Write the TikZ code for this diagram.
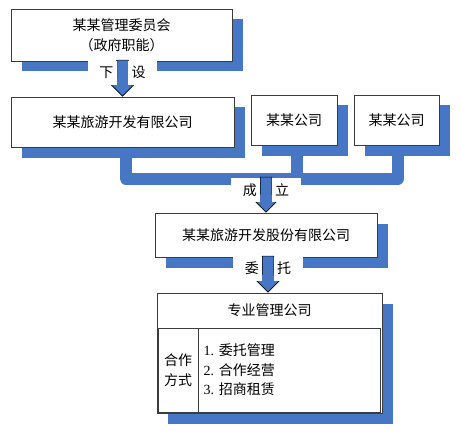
\documentclass[tikz,border=0pt]{standalone}
\usepackage{fontspec}
\setmainfont{Liberation Serif}
\newfontfamily\cjk{Noto Sans CJK SC}
\usetikzlibrary{shapes.arrows,shadows,backgrounds}

\definecolor{shadowblue}{RGB}{70,118,196}
\definecolor{boxline}{RGB}{60,60,60}

\tikzset{
  box/.style={draw=boxline, line width=0.9pt, fill=white, inner sep=0pt, align=center,
    font=\cjk\fontsize{14}{20}\selectfont,
    drop shadow={shadow xshift=10.5pt, shadow yshift=-10.5pt, fill=shadowblue, opacity=1}},
  inbox/.style={draw=boxline, line width=0.9pt, inner sep=0pt, align=center,
    font=\cjk\fontsize{14}{20}\selectfont},
  bigarrow/.style={single arrow, rotate=-90, anchor=tip, fill=shadowblue, draw=black, line width=0.6pt,
    inner xsep=0pt, inner ysep=5.5pt, minimum height=36pt,
    single arrow head extend=12pt, single arrow head indent=0pt},
  tag/.style={fill=white, inner xsep=3.5pt, inner ysep=0pt, minimum height=24pt, text width=22pt,
    font=\cjk\fontsize{14}{16}\selectfont},
  bar/.style={shadowblue, line width=12pt, line join=round}
}

\begin{document}
\begin{tikzpicture}[x=1pt, y=-1pt]
  \useasboundingbox (0,0) rectangle (460,433);

  % Boites
  \node[box, minimum width=221pt, minimum height=52pt] (gov) at (121.5,35) {某某管理委员会\\（政府职能）};
  \node[box, minimum width=223pt, minimum height=50pt] (tour) at (122.5,122) {某某旅游开发有限公司};
  \node[box, minimum width=86pt, minimum height=50pt] (coA) at (294,120) {某某公司};
  \node[box, minimum width=85pt, minimum height=50pt] (coB) at (396.5,120) {某某公司};
  \node[box, minimum width=222pt, minimum height=44pt] (share) at (266,235) {某某旅游开发股份有限公司};
  \node[box, minimum width=225pt, minimum height=120pt] (mgmt) at (269.5,353) {};

  % Societe de gestion
  \node[anchor=north, minimum height=35pt, inner sep=0pt, font=\cjk\fontsize{14}{20}\selectfont] (mgmtname) at (mgmt.north) {专业管理公司};
  \node[inbox, anchor=south west, minimum width=40pt, minimum height=84pt] (mode) at ([xshift=1pt, yshift=1pt]mgmt.south west) {合作\\方式};
  \node[inbox, anchor=south west, minimum width=182pt, minimum height=84pt] (body) at (mode.south east) {};
  \node[anchor=west, align=left, inner sep=0pt, font=\cjk\fontsize{14}{19.5}\selectfont] (ways) at ([xshift=5pt]body.west)
    {{\rmfamily 1. }委托管理\\{\rmfamily 2. }合作经营\\{\rmfamily 3. }招商租赁};

  % Barre de regroupement
  \begin{scope}[on background layer]
    \coordinate (join) at (266,178.5);
    \draw[bar] ([xshift=3pt]tour.south) |- (join) -| ([xshift=1.5pt]coB.south);
    \draw[bar] ([xshift=2.5pt]coA.south) -- ([xshift=2.5pt]coA.south |- join);
  \end{scope}

  % Fleches
  \node[bigarrow] (a1) at (tour.north) {};
  \node[bigarrow, minimum height=35pt] (a2) at (share.north) {};
  \node[bigarrow] (a3) at ([xshift=-1.5pt]mgmt.north) {};

  % Etiquettes
  \node[tag, anchor=north east, align=right] (xia) at ([xshift=-5.5pt, yshift=-0.5pt]a1.tail) {下};
  \node[tag, anchor=north west, align=left] (she) at ([xshift=5.5pt, yshift=-0.5pt]a1.tail) {设};
  \node[tag, anchor=north east, align=right] (cheng) at ([xshift=-5.5pt, yshift=-1pt]a2.tail) {成};
  \node[tag, anchor=north west, align=left] (li) at ([xshift=5.5pt, yshift=-1pt]a2.tail) {立};
  \node[tag, anchor=north east, align=right] (wei) at ([xshift=-5.5pt, yshift=-0.5pt]a3.tail) {委};
  \node[tag, anchor=north west, align=left] (tuo) at ([xshift=5.5pt, yshift=-0.5pt]a3.tail) {托};
\end{tikzpicture}
\end{document}
